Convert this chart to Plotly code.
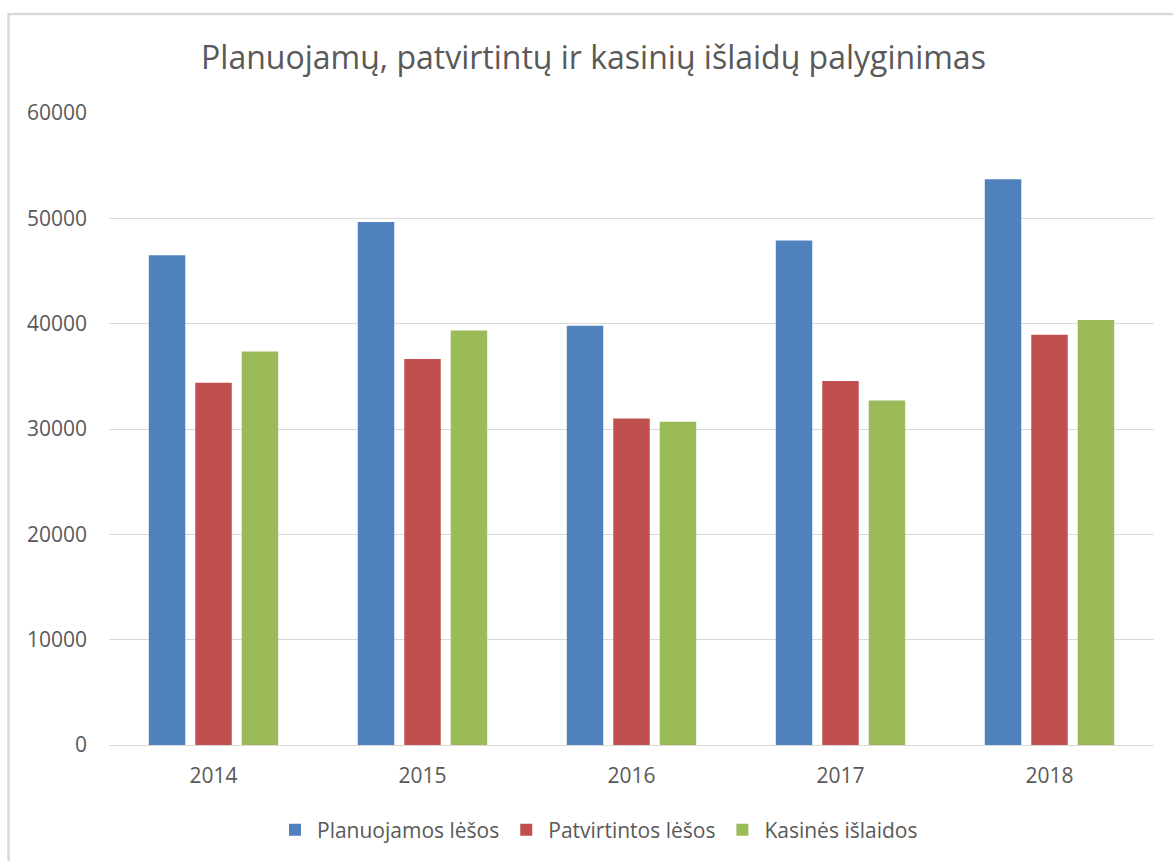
import plotly.graph_objects as go

years = ["2014", "2015", "2016", "2017", "2018"]
planuojamos = [46500, 49650, 39800, 47900, 53700]
patvirtintos = [34400, 36650, 31000, 34550, 38950]
kasines = [37350, 39350, 30700, 32700, 40350]

series_names = ["Planuojamos lėšos", "Patvirtintos lėšos", "Kasinės išlaidos"]
colors = ["#4F81BD", "#C0504D", "#9BBB59"]
y_ticks = [0, 10000, 20000, 30000, 40000, 50000, 60000]

W, H = 1173, 861
L, R, T, B = 109, 19, 113, 116
pw, ph = W - L - R, H - T - B

def px_x(p):
    return (p - L) / pw

def px_y(p):
    return (H - B - p) / ph

FONT = "Open Sans"
GREY = "#595959"

fig = go.Figure()
for name, vals, col in zip(series_names, [planuojamos, patvirtintos, kasines], colors):
    fig.add_trace(go.Bar(
        x=years, y=vals, name=name,
        marker=dict(color=col, line=dict(color=col, width=0)),
    ))

fig.update_layout(
    width=W, height=H,
    margin=dict(l=L, r=R, t=T, b=B, autoexpand=False),
    paper_bgcolor="white", plot_bgcolor="white",
    barmode="group", bargap=0.333, bargroupgap=0.215,
    title=dict(
        text="Planuojamų, patvirtintų ir kasinių išlaidų palyginimas",
        x=593.5 / W, xanchor="center", xref="container",
        y=1 - 58 / H, yanchor="middle",
        font=dict(family=FONT, size=32, color=GREY),
    ),
    font=dict(family=FONT, color=GREY),
    showlegend=True,
    legend=dict(
        orientation="h", x=598 / W, xanchor="center", xref="container",
        y=px_y(830), yanchor="middle",
        font=dict(family=FONT, size=21, color=GREY),
        traceorder="normal", itemwidth=34,
    ),
    xaxis=dict(
        showgrid=False, showline=True, linecolor="#D9D9D9", linewidth=1,
        ticks="", tickfont=dict(family=FONT, size=21, color=GREY),
        ticklabelstandoff=12, fixedrange=True,
    ),
    yaxis=dict(
        range=[0, 60000], tickvals=y_ticks,
        ticktext=[str(v) for v in y_ticks],
        showgrid=True, gridcolor="#D9D9D9", gridwidth=1,
        zeroline=False, showline=False, ticks="",
        tickfont=dict(family=FONT, size=21, color=GREY),
        ticklabelstandoff=21, fixedrange=True,
    ),
    shapes=[dict(
        type="rect", xref="paper", yref="paper",
        x0=px_x(8.5), x1=px_x(1190), y0=px_y(900), y1=px_y(14),
        line=dict(color="#D9D9D9", width=2.5), fillcolor="rgba(0,0,0,0)",
        layer="below",
    )],
)

fig.write_html("out.html", config={"displayModeBar": False},
               post_script="document.body.style.margin='0';")
